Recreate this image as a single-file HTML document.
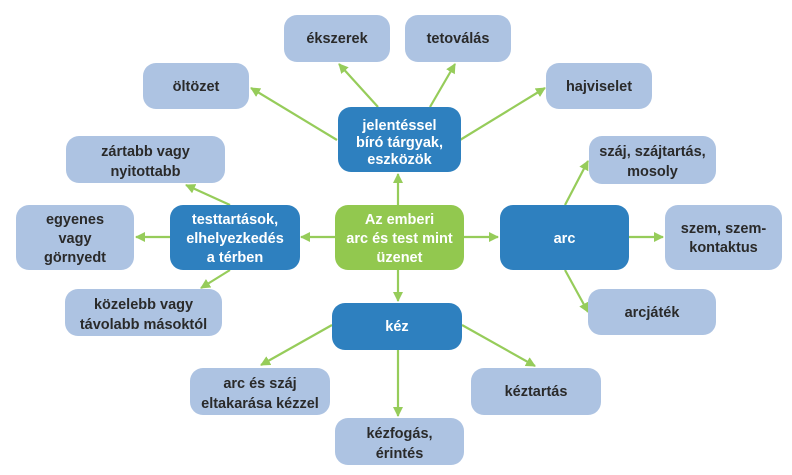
<!DOCTYPE html>
<html><head><meta charset="utf-8"><style>
html,body{margin:0;padding:0;background:#fff;}
svg{display:block;font-family:"Liberation Sans",sans-serif;font-weight:bold;font-size:14.5px;}
.l{fill:#adc3e2}.d{fill:#2e80bf}.g{fill:#92c84f}
.tl{fill:#2a2a2a}.tw{fill:#fff}
line{stroke:#96cc5a;stroke-width:2.2}
</style></head><body>
<svg width="792" height="475" viewBox="0 0 792 475">
<defs><marker id="ah" markerWidth="10" markerHeight="10" refX="9" refY="5" orient="auto" markerUnits="userSpaceOnUse"><path d="M0,0 L10,5 L0,10 z" fill="#96cc5a"/></marker></defs>
<g marker-end="url(#ah)">
<line x1="378" y1="107" x2="339" y2="64" marker-end="url(#ah)"/>
<line x1="430" y1="107" x2="455" y2="64" marker-end="url(#ah)"/>
<line x1="337" y1="140" x2="251" y2="88" marker-end="url(#ah)"/>
<line x1="460" y1="140" x2="545" y2="88" marker-end="url(#ah)"/>
<line x1="398" y1="205" x2="398" y2="174" marker-end="url(#ah)"/>
<line x1="335" y1="237" x2="301" y2="237" marker-end="url(#ah)"/>
<line x1="170" y1="237" x2="136" y2="237" marker-end="url(#ah)"/>
<line x1="230" y1="205" x2="186" y2="185" marker-end="url(#ah)"/>
<line x1="230" y1="270" x2="201" y2="288" marker-end="url(#ah)"/>
<line x1="464" y1="237" x2="498" y2="237" marker-end="url(#ah)"/>
<line x1="565" y1="205" x2="588" y2="161" marker-end="url(#ah)"/>
<line x1="629" y1="237" x2="663" y2="237" marker-end="url(#ah)"/>
<line x1="565" y1="270" x2="588" y2="312" marker-end="url(#ah)"/>
<line x1="398" y1="270" x2="398" y2="301" marker-end="url(#ah)"/>
<line x1="332" y1="325" x2="261" y2="365" marker-end="url(#ah)"/>
<line x1="462" y1="325" x2="535" y2="366" marker-end="url(#ah)"/>
<line x1="398" y1="350" x2="398" y2="416" marker-end="url(#ah)"/>
</g>

<g><rect class="l" x="284" y="15" width="106" height="47" rx="13"/><text class="tl" x="337" y="43" text-anchor="middle">ékszerek</text></g>
<g><rect class="l" x="405" y="15" width="106" height="47" rx="13"/><text class="tl" x="458" y="43" text-anchor="middle">tetoválás</text></g>
<g><rect class="l" x="143" y="63" width="106" height="46" rx="13"/><text class="tl" x="196" y="91" text-anchor="middle">öltözet</text></g>
<g><rect class="l" x="546" y="63" width="106" height="46" rx="13"/><text class="tl" x="599" y="91" text-anchor="middle">hajviselet</text></g>
<g><rect class="d" x="338" y="107" width="123" height="65" rx="13"/><text class="tw" x="399.5" y="130" text-anchor="middle">jelentéssel</text><text class="tw" x="399.5" y="147" text-anchor="middle">bíró tárgyak,</text><text class="tw" x="399.5" y="164" text-anchor="middle">eszközök</text></g>
<g><rect class="l" x="66" y="136" width="159" height="47" rx="13"/><text class="tl" x="145.5" y="156" text-anchor="middle">zártabb vagy</text><text class="tl" x="145.5" y="176" text-anchor="middle">nyitottabb</text></g>
<g><rect class="l" x="589" y="136" width="127" height="48" rx="13"/><text class="tl" x="652.5" y="156" text-anchor="middle">száj, szájtartás,</text><text class="tl" x="652.5" y="176" text-anchor="middle">mosoly</text></g>
<g><rect class="l" x="16" y="205" width="118" height="65" rx="13"/><text class="tl" x="75" y="224" text-anchor="middle">egyenes</text><text class="tl" x="75" y="243" text-anchor="middle">vagy</text><text class="tl" x="75" y="262" text-anchor="middle">görnyedt</text></g>
<g><rect class="d" x="170" y="205" width="130" height="65" rx="13"/><text class="tw" x="235" y="224" text-anchor="middle">testtartások,</text><text class="tw" x="235" y="243" text-anchor="middle">elhelyezkedés</text><text class="tw" x="235" y="262" text-anchor="middle">a térben</text></g>
<g><rect class="g" x="335" y="205" width="129" height="65" rx="13"/><text class="tw" x="399.5" y="224" text-anchor="middle">Az emberi</text><text class="tw" x="399.5" y="243" text-anchor="middle">arc és test mint</text><text class="tw" x="399.5" y="262" text-anchor="middle">üzenet</text></g>
<g><rect class="d" x="500" y="205" width="129" height="65" rx="13"/><text class="tw" x="564.5" y="243" text-anchor="middle">arc</text></g>
<g><rect class="l" x="665" y="205" width="117" height="65" rx="13"/><text class="tl" x="723.5" y="233" text-anchor="middle">szem, szem-</text><text class="tl" x="723.5" y="252" text-anchor="middle">kontaktus</text></g>
<g><rect class="l" x="65" y="289" width="157" height="47" rx="13"/><text class="tl" x="143.5" y="309" text-anchor="middle">közelebb vagy</text><text class="tl" x="143.5" y="329" text-anchor="middle">távolabb másoktól</text></g>
<g><rect class="l" x="588" y="289" width="128" height="46" rx="13"/><text class="tl" x="652" y="317" text-anchor="middle">arcjáték</text></g>
<g><rect class="d" x="332" y="303" width="130" height="47" rx="13"/><text class="tw" x="397" y="331" text-anchor="middle">kéz</text></g>
<g><rect class="l" x="190" y="368" width="140" height="47" rx="13"/><text class="tl" x="260" y="388" text-anchor="middle">arc és száj</text><text class="tl" x="260" y="408" text-anchor="middle">eltakarása kézzel</text></g>
<g><rect class="l" x="471" y="368" width="130" height="47" rx="13"/><text class="tl" x="536" y="396" text-anchor="middle">kéztartás</text></g>
<g><rect class="l" x="335" y="418" width="129" height="47" rx="13"/><text class="tl" x="399.5" y="438" text-anchor="middle">kézfogás,</text><text class="tl" x="399.5" y="458" text-anchor="middle">érintés</text></g>
</svg>
</body></html>
